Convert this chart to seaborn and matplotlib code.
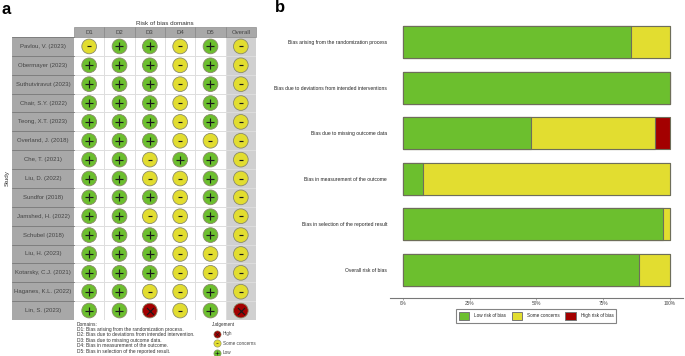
import matplotlib
matplotlib.use("Agg")
import matplotlib.pyplot as plt
from matplotlib.lines import Line2D
from matplotlib.patches import Patch, Rectangle
import numpy as np
import pandas as pd
import seaborn as sns

studies = ["Pavlou, V. (2023)", "Obermayer (2023)", "Suthutviravut (2023)", "Chair, S.Y. (2022)",
           "Teong, X.T. (2023)", "Overland, J. (2018)", "Che, T. (2021)", "Liu, D. (2022)",
           "Sundfor (2018)", "Jamshed, H. (2022)", "Schubel (2018)", "Liu, H. (2023)",
           "Kotarsky, C.J. (2021)", "Haganes, K.L. (2022)", "Lin, S. (2023)"]
domains = ["D1", "D2", "D3", "D4", "D5", "Overall"]
d1 = list("SLLLLLLLLLLLLLL")
d2 = list("LLLLLLLLLLLLLLL")
d3 = list("LLLLLLSSLSLLLSH")
d4 = list("SSSSSSLSSSSSSSS")
d5 = list("LLLLLSLLLLLSSLL")
overall = list("SSSSSSSSSSSSSSH")

bias_labels = ["Bias arising from the randomization process",
               "Bias due to deviations from intended interventions",
               "Bias due to missing outcome data",
               "Bias in measurement of the outcome",
               "Bias in selection of the reported result",
               "Overall risk of bias"]
low_pct = [85.4, 100, 48.1, 7.6, 97.4, 88.3]
some_pct = [14.6, 0, 46.2, 92.4, 2.6, 11.7]
high_pct = [0, 0, 5.7, 0, 0, 0]

domain_notes = ["Domains:",
                "D1: Bias arising from the randomization process.",
                "D2: Bias due to deviations from intended intervention.",
                "D3: Bias due to missing outcome data.",
                "D4: Bias in measurement of the outcome.",
                "D5: Bias in selection of the reported result."]

GREEN = "#6CBF2E"
YELLOW = "#E2DD30"
RED = "#A30000"
STRIP = "#A8A8A8"
OVERALL_BG = "#D0D0D0"
W, H = 685, 356

sns.set_theme(style="white")
plt.rcParams["font.family"] = ["Liberation Sans", "DejaVu Sans"]


def box(x0, y0, x1, y1):
    # pixel box (top-left origin) -> figure fraction
    return [x0 / W, 1 - y1 / H, (x1 - x0) / W, (y1 - y0) / H]


fig = plt.figure(figsize=(W / 100, H / 100), dpi=100)

# panel a: traffic light plot
ax = fig.add_axes(box(74, 37, 256, 320))
rob = pd.DataFrame([d1, d2, d3, d4, d5, overall], index=domains, columns=studies)
long = rob.reset_index(names="domain").melt(id_vars="domain", var_name="study", value_name="j")
long["x"] = long["domain"].map(domains.index)
long["y"] = long["study"].map(studies.index)

ax.set_xlim(-0.5, 5.5)
ax.set_ylim(14.5, -0.5)
ax.axvspan(4.5, 5.5, color=OVERALL_BG, lw=0, zorder=0)
for i in range(1, 6):
    ax.axvline(i - 0.5, color="#DDDDDD", lw=0.7, zorder=1)
for i in range(1, 15):
    ax.axhline(i - 0.5, color="#DDDDDD", lw=0.7, zorder=1)

judge_colors = {"L": GREEN, "S": YELLOW, "H": RED}
judge_marks = {"L": "+", "S": "_", "H": "x"}
judge_sizes = {"L": 36, "S": 7, "H": 26}
sns.scatterplot(data=long, x="x", y="y", hue="j", palette=judge_colors, s=112,
                edgecolor="#8A8A6A", linewidth=0.6, legend=False, ax=ax, zorder=3, clip_on=False)
for key, mark in judge_marks.items():
    sub = long[long["j"] == key]
    sns.scatterplot(data=sub, x="x", y="y", marker=mark, color="#1A1A1A",
                    s=judge_sizes[key], linewidth=0.85, legend=False, ax=ax, zorder=4)
ax.set_xlabel("")
ax.set_ylabel("")
ax.set_xticks([])
ax.set_yticks([])
for s in ax.spines.values():
    s.set_visible(False)

strip_w = 62 / (182 / 6)
head_h = 10 / (283 / 15)
for i, name in enumerate(studies):
    ax.add_patch(Rectangle((-0.5 - strip_w, i - 0.5), strip_w, 1, fc=STRIP, ec="none", clip_on=False))
    ax.plot([-0.5 - strip_w, -0.5], [i - 0.5, i - 0.5], color="#7E7E7E", lw=0.7, clip_on=False)
    ax.text(-0.5 - strip_w / 2, i, name, ha="center", va="center", fontsize=4.3, color="#444444")
for i, name in enumerate(domains):
    ax.add_patch(Rectangle((i - 0.5, -0.5 - head_h), 1, head_h, fc=STRIP, ec="#7E7E7E", lw=0.4, clip_on=False))
    ax.text(i, -0.5 - head_h / 2, name, ha="center", va="center", fontsize=4.3, color="#444444")

fig.text(165 / W, 1 - 23.5 / H, "Risk of bias domains", ha="center", va="center", fontsize=4.5, color="#333333")
fig.text(7 / W, 1 - 178 / H, "Study", ha="center", va="center", rotation=90, fontsize=4.5, color="#333333")
fig.text(1 / W, 1 - 9 / H, "a", ha="left", va="center", fontsize=12, fontweight="bold", color="black")
fig.text(275 / W, 1 - 8 / H, "b", ha="left", va="center", fontsize=12, fontweight="bold", color="black")

for i, line in enumerate(domain_notes):
    fig.text(77 / W, 1 - (324 + i * 5.45) / H, line, ha="left", va="center", fontsize=3.5, color="#333333")


def judge_handle(color, mark, ms):
    dot = Line2D([], [], ls="", marker="o", ms=5.2, mfc=color, mec="#8A8A6A", mew=0.4)
    sym = Line2D([], [], ls="", marker=mark, ms=ms, color="#1A1A1A", mew=0.4)
    return (dot, sym)


judge_leg = ax.legend([judge_handle(RED, "x", 2.6), judge_handle(YELLOW, "_", 1.4), judge_handle(GREEN, "+", 3)],
                      ["High", "Some concerns", "Low"], title="Judgement", frameon=False, fontsize=3.3,
                      title_fontsize=3.3, loc="upper left", bbox_to_anchor=(0.745, 0.002), borderpad=0,
                      labelspacing=0.98, handlelength=2.1, handletextpad=0.35, alignment="left")
for t in judge_leg.get_texts():
    t.set_color("#444444")
judge_leg.get_title().set_color("#333333")

# panel b: summary bars, drawn back to front from cumulative totals
axb = fig.add_axes(box(390, 10, 683, 298))
summary = pd.DataFrame({"label": bias_labels, "low": low_pct, "some": some_pct, "high": high_pct})
summary["to_some"] = summary["low"] + summary["some"]
summary["to_high"] = summary["to_some"] + summary["high"]
for col, color in [("to_high", RED), ("to_some", YELLOW), ("low", GREEN)]:
    sns.barplot(data=summary, y="label", x=col, color=color, orient="h", width=0.7, saturation=1,
                edgecolor="#6E6E5A", linewidth=0.8, ax=axb)
axb.set_xlim(-4.87, 104.87)
axb.set_ylim(5.614, -0.70)
axb.set_xlabel("")
axb.set_ylabel("")
axb.set_xticks([0, 25, 50, 75, 100], ["0%", "25%", "50%", "75%", "100%"])
axb.tick_params(axis="x", length=1.2, width=0.4, pad=1, labelsize=3.4, labelcolor="#444444", color="#666666", bottom=True)
axb.tick_params(axis="y", length=0, pad=2.2, labelsize=3.6, labelcolor="#222222")
sns.despine(ax=axb, left=True)
axb.spines["bottom"].set_color("#777777")
axb.spines["bottom"].set_linewidth(0.8)

handles = [Patch(fc=GREEN, ec="#777777", lw=0.7), Patch(fc=YELLOW, ec="#777777", lw=0.7), Patch(fc=RED, ec="#777777", lw=0.7)]
leg = axb.legend(handles, ["Low risk of bias", "Some concerns", "High risk of bias"], ncol=3, fontsize=3.3,
                 loc="center", bbox_to_anchor=((536 - 390) / 293, -0.0625), frameon=True, fancybox=False,
                 edgecolor="#666666", handlelength=2.2, handleheight=2.2, columnspacing=1.3, handletextpad=1.1,
                 borderpad=0.6)
leg.get_frame().set_linewidth(0.8)

fig.savefig("out.png", dpi=100)
